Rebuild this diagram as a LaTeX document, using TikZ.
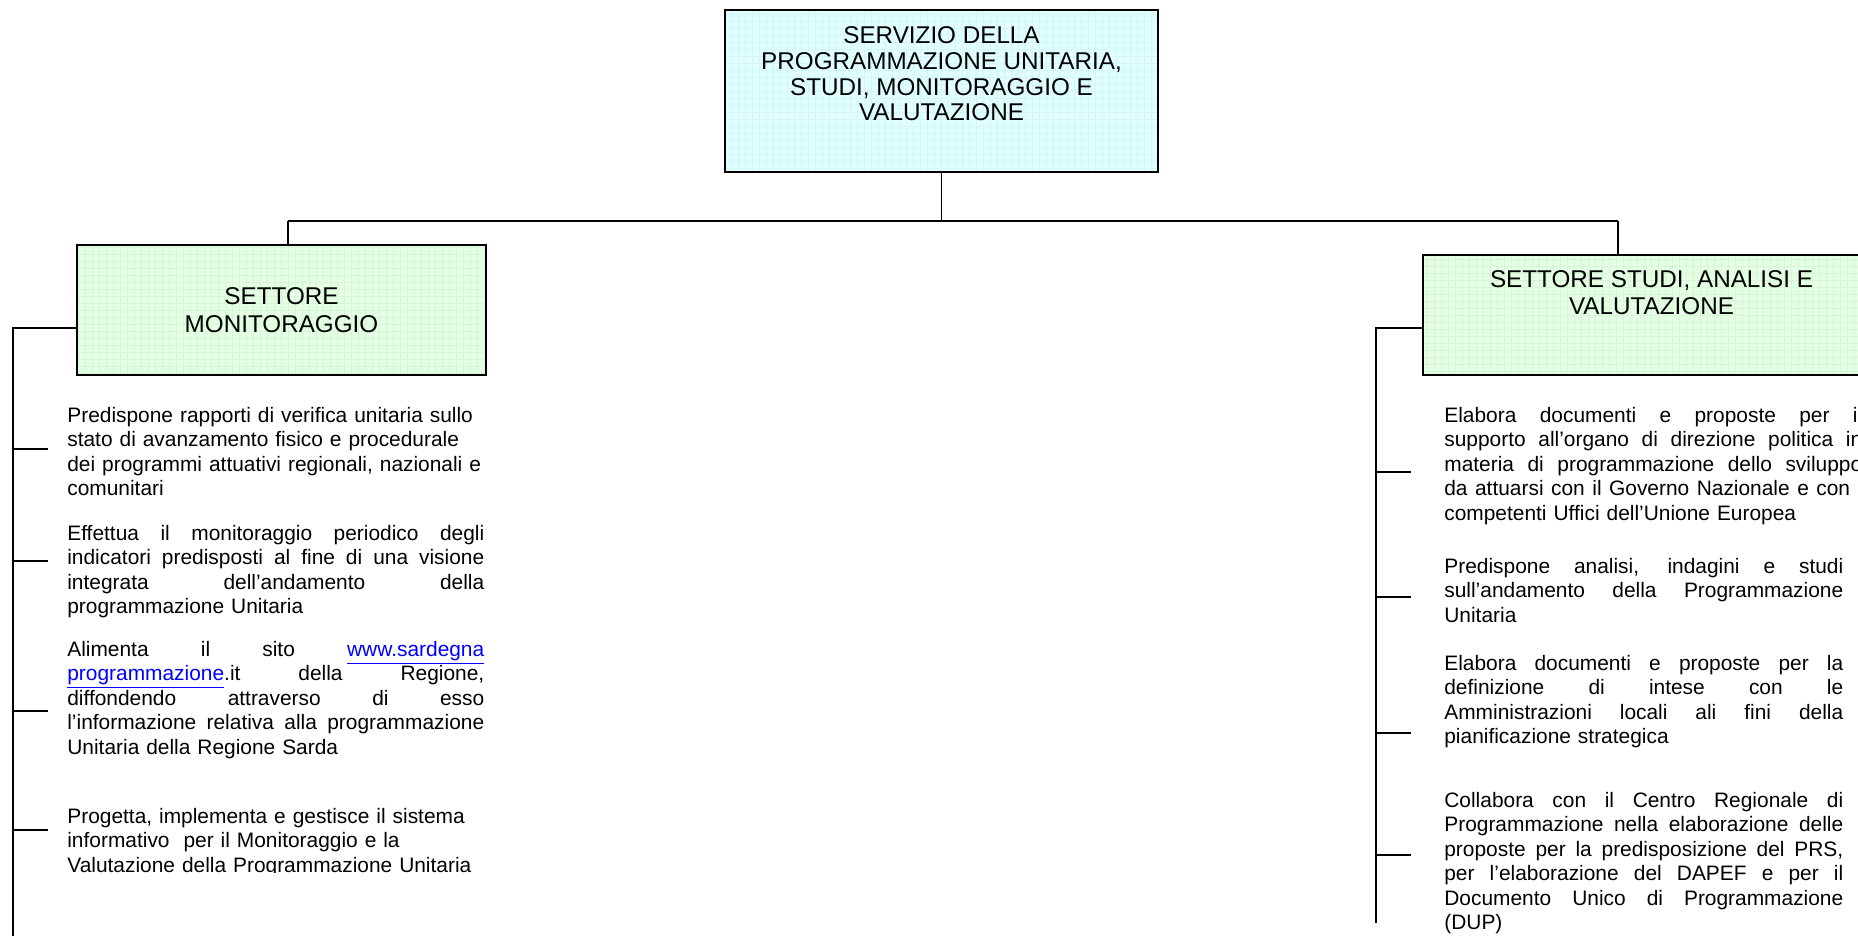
\documentclass[tikz,border=0pt]{standalone}
\usepackage{fontspec}
\setmainfont{Liberation Sans}
\usetikzlibrary{positioning}

\definecolor{boxcyan}{RGB}{226,255,255}
\definecolor{gridcyan}{RGB}{212,246,250}
\definecolor{boxgreen}{RGB}{228,255,228}
\definecolor{gridgreen}{RGB}{214,246,214}
\definecolor{linkblue}{RGB}{0,0,255}

% justified line, stretched to the full block width
\newcommand{\jl}[2][8.34cm]{{\spaceskip=0pt\xspaceskip=0pt\makebox[#1][s]{#2}}}
\newcommand{\weblink}[1]{\textcolor{linkblue}{\underline{#1}}}

\begin{document}
\begin{tikzpicture}[x=0.02cm, y=-0.02cm,
	every node/.style={inner sep=0pt},
	orgline/.style={line width=0.9pt},
	unitbox/.style={draw, line width=0.9pt, rectangle},
	cyanbox/.style={unitbox, fill=boxcyan, path picture={\draw[gridcyan, line width=0.3pt, step=0.14cm] (path picture bounding box.south west) grid (path picture bounding box.north east);}},
	greenbox/.style={unitbox, fill=boxgreen, path picture={\draw[gridgreen, line width=0.3pt, step=0.14cm] (path picture bounding box.south west) grid (path picture bounding box.north east);}},
	headtext/.style={align=center, font=\fontsize{13.8}{15.4}\selectfont},
	bodytext/.style={anchor=north west, align=left, text width=8.34cm, font=\fontsize{11.9}{13.9}\selectfont}]
	\useasboundingbox (0,0) rectangle (1858,936);
	\clip (0,0) rectangle (1858,936);
	
	% --- SERVIZIO (top) ---
	\node[cyanbox, minimum width=8.66cm, minimum height=3.24cm] (serv) at (941.5,91) {};
	\node[headtext, font=\fontsize{13.8}{14.7}\selectfont, below=0.34cm of serv.north] (servt)
		{SERVIZIO DELLA\\PROGRAMMAZIONE UNITARIA,\\STUDI, MONITORAGGIO E\\VALUTAZIONE};
	
	% --- SETTORI ---
	\node[greenbox, minimum width=8.18cm, minimum height=2.6cm] (mon) at (281.5,310) {};
	\node[headtext, below=0.87cm of mon.north] (mont) {SETTORE\\MONITORAGGIO};
	
	\node[greenbox, minimum width=9.14cm, minimum height=2.4cm] (stu) at (1651.5,315) {};
	\node[headtext, below=0.31cm of stu.north] (stut) {SETTORE STUDI, ANALISI E\\VALUTAZIONE};
	
	% Bus between the levels
	\coordinate (busl) at (288,221);
	\coordinate (busr) at (1618,221);
	\draw[orgline] (serv.south) -- (serv.south |- busl);
	\draw[orgline] (busl) -- (busr);
	\draw[orgline] (busl) -- (busl |- mon.north);
	\draw[orgline] (busr) -- (busr |- stu.north);
	
	% --- SETTORE MONITORAGGIO: tasks ---
	\coordinate (lhook) at (13,328);
	\coordinate (lend) at (13,936);
	\draw[orgline] (lhook -| mon.west) -- (lhook) -- (lend);
	\foreach \y [count=\i] in {449,561,711,830}{
		\coordinate (lt\i) at (13,\y);
		\draw[orgline] (lt\i) -- ++(35,0);
	}
	
	\node[bodytext] (mon1) at (67,407) {Predispone rapporti di verifica unitaria sullo\\
		stato di avanzamento fisico e procedurale\\
		dei programmi attuativi regionali, nazionali e\\
		comunitari};
	
	\node[bodytext] (mon2) at (67,525) {\jl{Effettua il monitoraggio periodico degli}\\
		\jl{indicatori predisposti al fine di una visione}\\
		\jl{integrata dell’andamento della}\\
		programmazione Unitaria};
	
	\node[bodytext] (mon3) at (67,641) {\jl{Alimenta il sito \weblink{www.sardegna}}\\
		\jl{\weblink{programmazione}.it della Regione,}\\
		\jl{diffondendo attraverso di esso}\\
		\jl{l’informazione relativa alla programmazione}\\
		Unitaria della Regione Sarda};
	
	\begin{scope}
		\clip (0,0) rectangle (1858,872);
		\node[bodytext] (mon4) at (67,808) {Progetta, implementa e gestisce il sistema\\
			informativo\ \ per il Monitoraggio e la\\
			Valutazione della Programmazione Unitaria};
	\end{scope}
	
	% --- SETTORE STUDI: tasks ---
	\coordinate (rhook) at (1376,328);
	\coordinate (rend) at (1376,923);
	\draw[orgline] (rhook -| stu.west) -- (rhook) -- (rend);
	\foreach \y [count=\i] in {472,597,733,855}{
		\coordinate (rt\i) at (1376,\y);
		\draw[orgline] (rt\i) -- ++(35,0);
	}
	
	\node[bodytext, text width=8.36cm] (stu1) at (1444,407) {\jl[8.36cm]{Elabora documenti e proposte per il}\\
		\jl[8.36cm]{supporto all’organo di direzione politica in}\\
		\jl[8.36cm]{materia di programmazione dello sviluppo}\\
		\jl[8.36cm]{da attuarsi con il Governo Nazionale e con i}\\
		competenti Uffici dell’Unione Europea};
	
	\node[bodytext, text width=7.98cm] (stu2) at (1444,558) {\jl[7.98cm]{Predispone analisi, indagini e studi}\\
		\jl[7.98cm]{sull’andamento della Programmazione}\\
		Unitaria};
	
	\node[bodytext, text width=7.98cm] (stu3) at (1444,655) {\jl[7.98cm]{Elabora documenti e proposte per la}\\
		\jl[7.98cm]{definizione di intese con le}\\
		\jl[7.98cm]{Amministrazioni locali ali fini della}\\
		pianificazione strategica};
	
	\node[bodytext, text width=7.98cm] (stu4) at (1444,792) {\jl[7.98cm]{Collabora con il Centro Regionale di}\\
		\jl[7.98cm]{Programmazione nella elaborazione delle}\\
		\jl[7.98cm]{proposte per la predisposizione del PRS,}\\
		\jl[7.98cm]{per l’elaborazione del DAPEF e per il}\\
		\jl[7.98cm]{Documento Unico di Programmazione}\\
		(DUP)};
\end{tikzpicture}
\end{document}
